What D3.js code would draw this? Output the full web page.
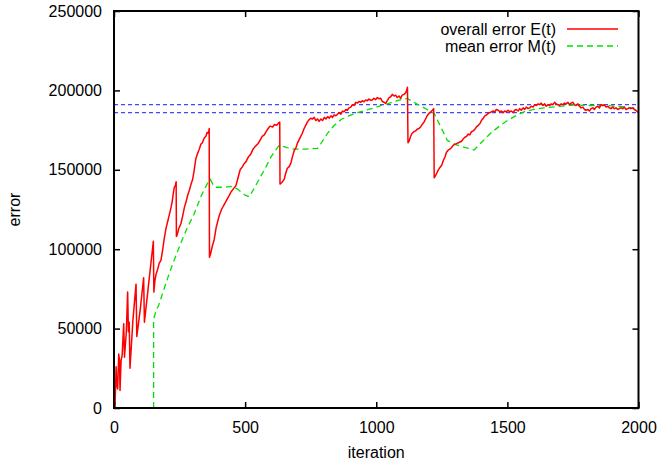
<!DOCTYPE html>
<html>
<head>
<meta charset="utf-8">
<script src="https://cdn.jsdelivr.net/npm/d3@7"></script>
<style>
    body { margin: 0; background: #fff; }
    text { font-family: "Liberation Sans", Arial, sans-serif; }
</style>
</head>
<body>
<div id="chart"></div>
<script>
const WIDTH = 660;
const HEIGHT = 464;

// ticks
const xTicks = [0, 500, 1000, 1500, 2000];
const yTicks = [0, 50000, 100000, 150000, 200000, 250000];

// legend labels
const seriesNames = ["overall error E(t)", "mean error M(t)"];

// horizontal reference levels (dotted blue)
const refLevels = [191000, 186000];

// overall error E(t): [iteration, error]
const overallError = [
    [0,0],[4,1000],[8,26000],[11,14000],[14,12000],[18,34000],[21,30000],[23,11000],[27,30000],[31,33000],
    [37,53000],[40,32000],[47,48000],[52,73000],[55,48000],[58,54000],[61,25000],[72,55000],[84,78000],[87,45000],
    [100,62000],[113,82000],[116,54000],[130,75000],[150,105000],[152,73000],
    [156,80000],[160,84000],[166,87000],[172,91000],[179,93000],[185,99000],[191,106000],[198,113000],[204,117000],
    [210,121000],[217,126000],[222,130000],[226,135000],[230,139000],[234,140000],[237,142500],[238,108000],
    [241,109000],[247,113000],[255,116000],[262,121000],[268,126000],[275,130000],[281,134000],[287,137000],
    [294,141000],[300,144000],[306,150000],[312,157000],[318,160000],[325,163000],[331,166000],[337,167000],
    [344,170000],[350,171000],[355,173500],[360,173000],[363,176000],[364,95000],
    [368,97000],[375,102000],[382,106000],[390,114000],[401,121000],[410,125000],[420,128000],[430,131000],
    [440,134000],[446,136000],[455,138000],[465,140000],[473,145000],[481,150000],[490,152000],[497,154000],
    [503,155000],[512,158000],[522,160000],[530,163000],[540,165000],[547,166000],[555,168000],[565,171000],
    [573,172000],[580,174000],[588,176000],[595,177500],[605,177000],[612,178500],[620,178000],[628,179500],
    [632,180000],[633,141000],
    [640,142000],[649,144000],[655,148000],[661,151000],[668,152000],[674,154000],[680,158000],[687,162000],
    [694,164000],[700,167000],[706,169000],[712,171000],[718,173000],[725,176000],[731,178000],[737,180000],
    [744,181500],[750,182500],[757,182000],[763,183000],[770,181000],[776,182000],[782,180500],[789,182000],
    [795,181000],[802,183000],[808,182000],[815,183500],[821,182500],[827,184000],[833,183000],[839,184500],
    [846,184000],[852,185000],[858,186000],[865,185000],[871,187000],[877,186500],[884,188000],[890,187500],
    [896,189000],[903,189500],[909,191000],[915,190500],[922,192500],[928,192000],[934,193000],[941,192500],
    [947,193500],[953,192800],[960,194000],[966,193500],[972,194500],[979,193800],[985,194000],[991,195000],
    [998,194200],[1004,195500],[1010,194800],[1017,195000],[1023,193000],[1030,192500],[1036,191800],[1042,193500],
    [1049,195500],[1055,196000],[1061,197500],[1068,196500],[1074,197000],[1080,195500],[1087,196500],[1093,195000],
    [1099,197000],[1106,197500],[1112,198500],[1116,200000],[1119,202000],[1121,167000],
    [1125,168000],[1131,171000],[1137,173000],[1143,174000],[1150,174500],[1156,175500],[1163,176000],[1169,177000],
    [1175,178500],[1182,180000],[1188,182000],[1194,184000],[1201,185500],[1208,186500],[1214,187500],[1219,188500],
    [1221,145000],
    [1225,146000],[1231,148000],[1237,150000],[1243,151500],[1250,153000],[1256,156000],[1262,158000],[1268,161000],
    [1275,162500],[1281,163000],[1287,164000],[1294,165500],[1300,166000],[1306,166500],[1313,167000],[1319,167500],
    [1325,168000],[1332,169500],[1338,170500],[1344,171000],[1351,172500],[1357,172000],[1363,174000],[1370,174500],
    [1376,175500],[1382,177000],[1389,178000],[1395,179000],[1401,181000],[1408,182500],[1414,184000],[1420,184500],
    [1427,185500],[1433,186000],[1439,186500],[1446,187000],[1452,186500],[1458,188000],[1465,187500],[1471,186500],
    [1477,187000],[1484,186000],[1490,187000],[1496,186500],[1503,187500],[1509,186500],[1515,187000],[1522,186000],
    [1528,187500],[1534,188000],[1541,187000],[1547,188500],[1553,187500],[1560,189000],[1566,188000],[1572,189500],
    [1579,188500],[1585,189000],[1591,190000],[1598,189500],[1604,191000],[1610,190500],[1617,191500],[1623,191000],
    [1629,192000],[1636,190500],[1642,191500],[1648,190000],[1655,191000],[1661,190500],[1667,191500],[1674,191000],
    [1680,192500],[1686,191500],[1693,191000],[1699,190500],[1705,191500],[1712,191000],[1718,192000],[1724,191500],
    [1731,192500],[1737,191000],[1743,192000],[1750,192500],[1756,191000],[1762,190500],[1769,191500],[1775,190000],
    [1781,189000],[1788,189500],[1794,188000],[1800,187500],[1807,188000],[1813,187000],[1819,188500],[1826,189000],
    [1832,188000],[1838,189500],[1845,190000],[1851,189000],[1857,191000],[1864,190500],[1870,191000],[1876,189500],
    [1883,190000],[1889,189000],[1895,188500],[1902,189500],[1908,188500],[1914,189000],[1921,188000],[1927,188500],
    [1933,189000],[1940,188500],[1946,189500],[1952,188000],[1959,188500],[1965,189000],[1971,188500],[1978,189000],
    [1984,188000],[1990,187500],[1996,186500],[2000,186000]
];

// mean error M(t): [iteration, error]
const meanError = [
    [151,0],[151,56000],[160,61000],[171,65000],[185,72000],[203,81000],[220,89000],[241,98000],[260,106000],
    [281,114000],[305,122000],[331,133000],[355,141000],[367,144000],[380,140000],[389,139000],[420,139000],
    [446,139500],[470,138000],[500,134000],[516,133000],[540,140000],[560,146000],[580,152000],[598,158000],
    [615,162000],[630,165500],[660,164000],[687,163000],[730,163000],[776,163500],[795,168000],[814,173000],
    [840,178000],[865,181500],[895,184000],[928,186000],[960,187500],[992,189000],[1020,190500],[1042,191500],
    [1080,193500],[1118,195000],[1160,191000],[1200,187500],[1221,185500],[1246,177000],[1271,168500],[1300,166000],
    [1340,164000],[1373,162500],[1400,167000],[1436,173000],[1470,177500],[1500,181000],[1537,184500],[1563,186500],
    [1600,188000],[1639,189000],[1700,190000],[1753,190800],[1800,190500],[1880,190500],[1950,189500],[2000,188500]
];

const RED = "#ff0000";
const GREEN = "#00e000";

function setup(){
    let svg = d3.select("#chart")
        .append("svg")
        .attr("width",WIDTH)
        .attr("height",HEIGHT);

    let x = d3.scaleLinear().domain([0,2000]).range([114,638.5]);
    let y = d3.scaleLinear().domain([0,250000]).range([408,11]);

    // reference lines
    svg.selectAll(".ref")
        .data(refLevels)
        .enter()
        .append("line")
        .attr("class","ref")
        .attr("x1",x(0))
        .attr("x2",x(2000))
        .attr("y1",d => y(d))
        .attr("y2",d => y(d))
        .style("stroke","#4545ff")
        .style("stroke-width",1.3)
        .style("stroke-dasharray","4,3");

    let line = d3.line()
        .x(d => x(d[0]))
        .y(d => y(d[1]));

    svg.append("path")
        .datum(meanError)
        .attr("d",line)
        .style("fill","none")
        .style("stroke",GREEN)
        .style("stroke-width",1.3)
        .style("stroke-dasharray","6,4");

    svg.append("path")
        .datum(overallError)
        .attr("d",line)
        .style("fill","none")
        .style("stroke",RED)
        .style("stroke-width",1.5)
        .style("stroke-linejoin","round");

    // axes with inward ticks
    let fmt = d3.format("d");
    let xAxis = svg.append("g")
        .attr("transform",`translate(0,${y(0)})`)
        .call(d3.axisBottom(x).tickValues(xTicks).tickFormat(fmt).tickSizeInner(-6).tickSizeOuter(0).tickPadding(13.5));
    let yAxis = svg.append("g")
        .attr("transform",`translate(${x(0)},0)`)
        .call(d3.axisLeft(y).tickValues(yTicks).tickFormat(fmt).tickSizeInner(-6).tickSizeOuter(0).tickPadding(12));
    let xTop = svg.append("g")
        .attr("transform",`translate(0,${y(250000)})`)
        .call(d3.axisTop(x).tickValues(xTicks).tickSizeInner(-6).tickSizeOuter(0).tickFormat(""));
    let yRight = svg.append("g")
        .attr("transform",`translate(${x(2000)},0)`)
        .call(d3.axisRight(y).tickValues(yTicks).tickSizeInner(-6).tickSizeOuter(0).tickFormat(""));

    [xAxis,yAxis,xTop,yRight].forEach(g => {
        g.select(".domain").remove();
        g.selectAll(".tick line").style("stroke","#000").style("stroke-width",1.5);
        g.selectAll("text")
            .style("font-size","16px")
            .style("fill","#000")
            .style("font-family","'Liberation Sans', Arial, sans-serif");
    });

    // frame
    svg.append("rect")
        .attr("x",x(0))
        .attr("y",y(250000))
        .attr("width",x(2000)-x(0))
        .attr("height",y(0)-y(250000))
        .style("fill","none")
        .style("stroke","#000")
        .style("stroke-width",2);

    // axis titles
    svg.append("text")
        .attr("x",(x(0)+x(2000))/2)
        .attr("y",458)
        .attr("text-anchor","middle")
        .style("font-size","16px")
        .text("iteration");

    svg.append("text")
        .attr("transform",`translate(20,${(y(0)+y(250000))/2}) rotate(-90)`)
        .attr("text-anchor","middle")
        .style("font-size","16px")
        .text("error");

    // legend
    let colors = [RED,GREEN];
    let dashes = ["none","6,4"];
    seriesNames.forEach((name,i) => {
        let ly = 29 + i*17;
        svg.append("text")
            .attr("x",556)
            .attr("y",ly+5.5)
            .attr("text-anchor","end")
            .style("font-size","16px")
            .text(name);
        svg.append("line")
            .attr("x1",567)
            .attr("x2",618)
            .attr("y1",ly)
            .attr("y2",ly)
            .style("stroke",colors[i])
            .style("stroke-width",1.3)
            .style("stroke-dasharray",dashes[i]);
    });
}

window.addEventListener("load",setup);
</script>
</body>
</html>
